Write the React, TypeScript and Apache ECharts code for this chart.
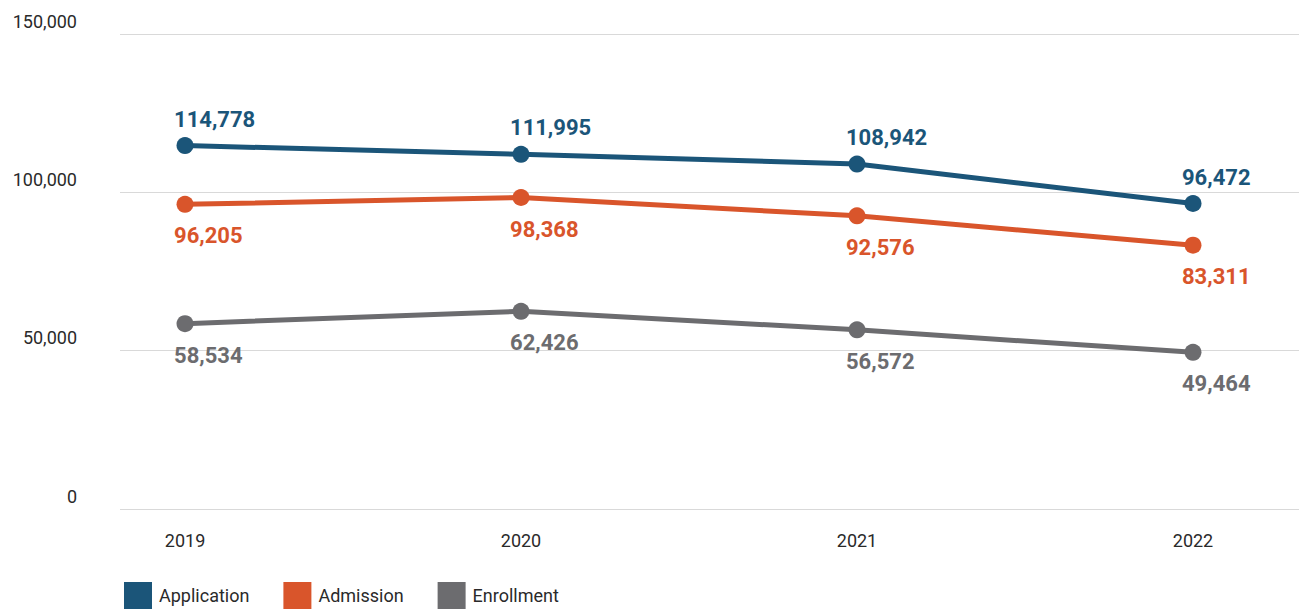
import React, { useEffect, useRef } from "react";
import * as echarts from "echarts";

const years = [2019, 2020, 2021, 2022];
const application = [114778, 111995, 108942, 96472];
const admission = [96205, 98368, 92576, 83311];
const enrollment = [58534, 62426, 56572, 49464];
const seriesNames = ["Application", "Admission", "Enrollment"];
const colors = ["#1b5579", "#d9552b", "#6c6c6f"];

const fmt = (v: number) => v.toLocaleString("en-US");

export default function App() {
  const ref = useRef<HTMLDivElement>(null);
  useEffect(() => {
    if (!ref.current) return;
    const chart = echarts.init(ref.current, undefined, { renderer: "svg" });
    const mk = (name: string, vals: number[], color: string, pos: "top" | "bottom") => ({
      name,
      type: "line",
      data: years.map((y, i) => [y, vals[i]]),
      symbol: "circle",
      symbolSize: 17,
      lineStyle: { color, width: 5 },
      itemStyle: { color },
      label: {
        show: true,
        position: pos,
        distance: pos === "top" ? 7 : 12,
        align: "left",
        offset: [-11, 0],
        formatter: (p: any) => fmt(p.value[1]),
        color,
        fontFamily: "Roboto",
        fontWeight: "bold",
        fontSize: 22,
      },
    });
    chart.setOption({
      animation: false,
      color: colors,
      grid: { left: 120, right: 0, top: 34, bottom: 100, containLabel: false },
      legend: {
        left: 124,
        top: 582,
        padding: 0,
        itemWidth: 28,
        itemHeight: 27,
        itemGap: 34,
        icon: "rect",
        data: seriesNames,
        textStyle: { fontFamily: "Roboto", fontSize: 18, color: "#2a2a2a", padding: [0, 0, 0, 2] },
      },
      xAxis: {
        type: "value",
        min: 2018.8065,
        max: 2022.3155,
        axisLine: { show: false },
        axisTick: { show: false },
        splitLine: { show: false },
        axisLabel: {
          customValues: years,
          formatter: (v: number) => String(v),
          margin: 22,
          fontFamily: "Roboto",
          fontSize: 18,
          color: "#2a2a2a",
        },
      },
      yAxis: {
        type: "value",
        min: 0,
        max: 150000,
        interval: 50000,
        axisLine: { show: false },
        axisTick: { show: false },
        splitLine: { lineStyle: { color: "#d9d9d9", width: 1 } },
        axisLabel: {
          formatter: (v: number) => fmt(v),
          margin: 43,
          verticalAlign: "bottom",
          padding: [0, 0, 4, 0],
          fontFamily: "Roboto",
          fontSize: 18,
          color: "#2a2a2a",
        },
      },
      series: [
        mk(seriesNames[0], application, colors[0], "top"),
        mk(seriesNames[1], admission, colors[1], "bottom"),
        mk(seriesNames[2], enrollment, colors[2], "bottom"),
      ],
    });
    return () => chart.dispose();
  }, []);
  return <div ref={ref} style={{ width: 1299, height: 609, position: "absolute", left: 0, top: 0 }} />;
}
